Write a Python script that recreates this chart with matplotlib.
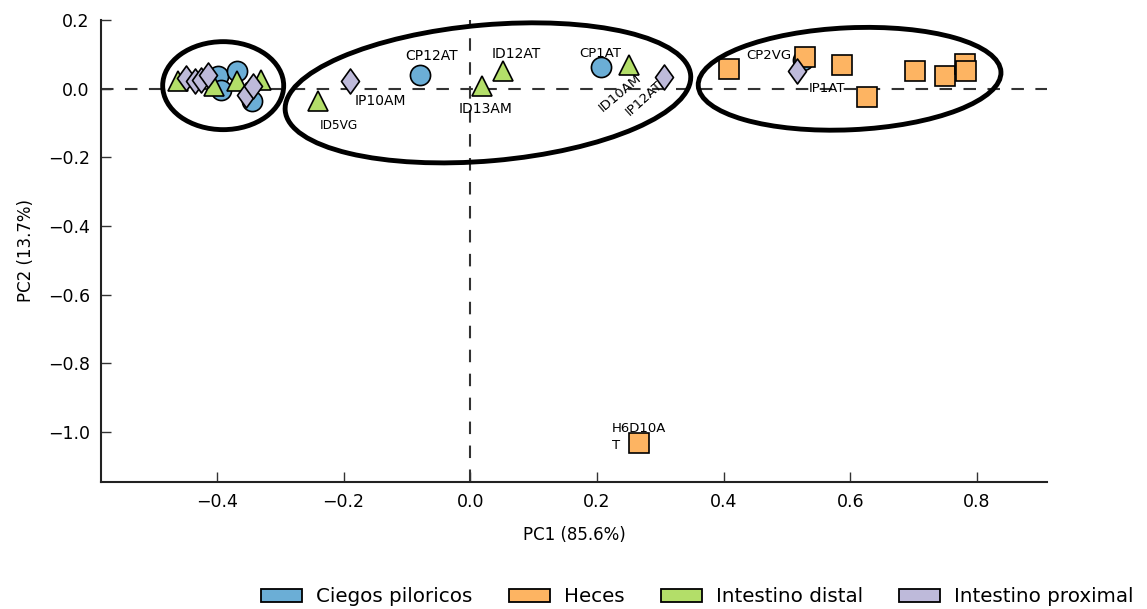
import matplotlib.pyplot as plt
import matplotlib.transforms as mtransforms
from matplotlib.patches import Ellipse, Patch
from matplotlib.path import Path

# PCoA coordinates
cp_x = [-0.398, -0.393, -0.368, -0.344, -0.079, 0.207, 0.525]
cp_y = [0.036, -0.003, 0.051, -0.037, 0.041, 0.063, 0.084]

he_x = [0.408, 0.528, 0.587, 0.627, 0.702, 0.750, 0.781, 0.783, 0.267]
he_y = [0.058, 0.092, 0.068, -0.024, 0.051, 0.036, 0.072, 0.053, -1.033]

id_x = [-0.461, -0.404, -0.368, -0.330, -0.241, 0.018, 0.052, 0.251]
id_y = [0.022, 0.007, 0.022, 0.026, -0.035, 0.007, 0.053, 0.070]

ip_x = [-0.449, -0.435, -0.425, -0.414, -0.354, -0.343, -0.189, 0.306, 0.516]
ip_y = [0.031, 0.022, 0.026, 0.041, -0.018, 0.007, 0.023, 0.033, 0.051]

groups = ["Ciegos piloricos", "Heces", "Intestino distal", "Intestino proximal"]
colors = ["#6baed6", "#fdb462", "#b3de69", "#bebada"]

# sample labels: text, x, y, rotation, fontsize
labels = [
    ("CP12AT", -0.061, 0.096, 0, 10),
    ("ID12AT", 0.072, 0.101, 0, 10),
    ("CP1AT", 0.206, 0.104, 0, 9.5),
    ("IP10AM", -0.142, -0.036, 0, 10),
    ("ID5VG", -0.208, -0.106, 0, 8.7),
    ("ID13AM", 0.024, -0.059, 0, 10),
    ("ID10AM", 0.236, -0.013, 40, 9.5),
    ("IP12AT", 0.275, -0.027, 42, 9.5),
    ("CP2VG", 0.472, 0.096, 0, 9.5),
    ("IP1AT", 0.564, 0.002, 0, 9.5),
]

# group outlines: centre (data), width/height (inches), angle
ellipses = [
    (-0.390, 0.009, 1.21, 0.88, 0),
    (0.028, -0.012, 4.07, 1.36, 5.0),
    (0.599, 0.029, 3.03, 1.02, 2.6),
]

fig = plt.figure(figsize=(11.47, 6.09), dpi=100)
ax = fig.add_axes([0.088, 0.209, 0.825, 0.758])

ax.axhline(0, color="#333333", lw=1.5, ls=(0, (6, 5.5)), zorder=1)
ax.axvline(0, color="#333333", lw=1.5, ls=(0, (6, 5.5)), zorder=1)

# wider diamond than the built-in 'd'
diamond = Path([(0, 1), (0.72, 0), (0, -1), (-0.72, 0), (0, 1)],
               [Path.MOVETO, Path.LINETO, Path.LINETO, Path.LINETO, Path.CLOSEPOLY])

mk = dict(markeredgecolor="black", markeredgewidth=1.2, linestyle="none")
ax.plot(cp_x, cp_y, "o", ms=14.5, color=colors[0], zorder=3, **mk)
ax.plot(he_x, he_y, "s", ms=13.8, color=colors[1], zorder=4, **mk)
ax.plot(id_x, id_y, "^", ms=14.5, color=colors[2], zorder=5, **mk)
ax.plot(ip_x, ip_y, marker=diamond, ms=18, color=colors[3], zorder=6, **mk)

for txt, x, y, rot, fs in labels:
    ax.text(x, y, txt, fontsize=fs, rotation=rot, ha="center", va="center", zorder=7)
ax.text(0.224, -1.015, "H6D10A\nT", fontsize=9.5, ha="left", va="center",
        linespacing=1.4, zorder=7)

for cx, cy, w, h, ang in ellipses:
    tr = fig.dpi_scale_trans + mtransforms.ScaledTranslation(cx, cy, ax.transData)
    ax.add_patch(Ellipse((0, 0), w, h, angle=ang, transform=tr, fill=False,
                         lw=3.5, edgecolor="black", zorder=8, clip_on=False))

ax.set_xlim(-0.583, 0.911)
ax.set_ylim(-1.145, 0.2)
ax.set_xticks([-0.4, -0.2, 0.0, 0.2, 0.4, 0.6, 0.8])
ax.set_yticks([0.2, 0.0, -0.2, -0.4, -0.6, -0.8, -1.0])
ax.set_xlabel("PC1 (85.6%)", fontsize=12, labelpad=11)
ax.set_ylabel("PC2 (13.7%)", fontsize=12, labelpad=9)
ax.tick_params(direction="in", length=7, width=1, color="#333333",
               labelsize=12.5, pad=8)
for s in ["top", "right"]:
    ax.spines[s].set_visible(False)
for s in ["left", "bottom"]:
    ax.spines[s].set_linewidth(1.5)
    ax.spines[s].set_color("#222222")

handles = [Patch(facecolor=c, edgecolor="black", lw=1.3) for c in colors]
fig.legend(handles, groups, loc="center", bbox_to_anchor=(0.608, 0.02), ncol=4,
           frameon=False, fontsize=14.3, handlelength=2.05, handleheight=0.66,
           handletextpad=0.7, columnspacing=1.85)

fig.savefig("out.png", dpi=100)
